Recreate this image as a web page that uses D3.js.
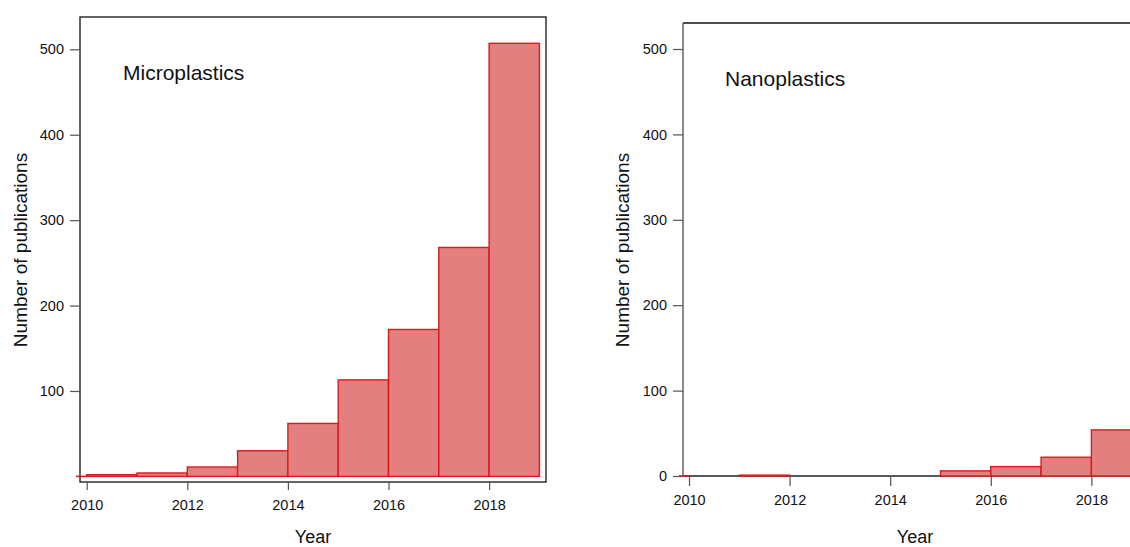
<!DOCTYPE html>
<html>
<head>
<meta charset="utf-8">
<script src="https://cdn.jsdelivr.net/npm/d3@7"></script>
<style>
  body { margin: 0; background: #fff; }
  svg { font-family: "Liberation Sans", Arial, sans-serif; display: block; }
</style>
</head>
<body>
<svg id="chart" width="1130" height="547"></svg>
<script>
// Data
const years = [2010, 2011, 2012, 2013, 2014, 2015, 2016, 2017, 2018];
const microCounts = [2, 4, 11, 30, 62, 113, 172, 268, 507];
const nanoCounts = [0, 1, null, null, null, 6, 11, 22, 54];
const yTicksMicro = [100, 200, 300, 400, 500];
const yTicksNano = [0, 100, 200, 300, 400, 500];
const xTicks = [2010, 2012, 2014, 2016, 2018];

const fill = "#e37f7f";
const stroke = "#dc1a1a";

const svg = d3.select("#chart");

// one panel of the figure
function drawPanel(opt) {
  const g = svg.append("g");
  const x = d3.scaleLinear().domain([2010, 2019]).range([opt.x0, opt.x0 + 9 * 50.3]);
  const y = d3.scaleLinear().domain([0, 500]).range([opt.y0, opt.y500]);

  const data = years.map((yr, i) => ({ year: yr, n: opt.counts[i] }))
    .filter(d => d.n !== null);

  // box
  if (opt.fullBox) {
    g.append("rect")
      .attr("x", opt.box.left).attr("y", opt.box.top)
      .attr("width", opt.box.right - opt.box.left)
      .attr("height", opt.box.bottom - opt.box.top)
      .attr("fill", "none").attr("stroke", "#111").attr("stroke-width", 1.3);
  } else {
    g.append("line")
      .attr("x1", opt.box.left).attr("x2", opt.box.right)
      .attr("y1", opt.box.top).attr("y2", opt.box.top)
      .attr("stroke", "#111").attr("stroke-width", 1.3);
    g.append("line")
      .attr("x1", opt.box.left).attr("x2", opt.box.right)
      .attr("y1", opt.box.bottom).attr("y2", opt.box.bottom)
      .attr("stroke", "#222").attr("stroke-width", 1.3);
    g.append("line")
      .attr("x1", opt.box.left).attr("x2", opt.box.left)
      .attr("y1", opt.box.top).attr("y2", opt.box.bottom)
      .attr("stroke", "#666").attr("stroke-width", 1.5);
  }

  // bars
  g.selectAll("rect.bar")
    .data(data)
    .enter()
    .append("rect")
    .attr("class", "bar")
    .attr("x", d => x(d.year))
    .attr("y", d => y(d.n))
    .attr("width", d => x(d.year + 1) - x(d.year))
    .attr("height", d => y(0) - y(d.n))
    .attr("fill", fill)
    .attr("stroke", stroke)
    .attr("stroke-width", 1.4);

  // red zero mark left of the first bar
  g.append("line")
    .attr("x1", opt.box.left - 4).attr("x2", x(2010))
    .attr("y1", y(0)).attr("y2", y(0))
    .attr("stroke", stroke).attr("stroke-width", 1.6);

  // y axis
  const yAxis = d3.axisLeft(y).tickValues(opt.yTicks).tickSize(10).tickPadding(6).tickSizeOuter(0);
  const ya = g.append("g")
    .attr("transform", "translate(" + opt.box.left + ",0)")
    .call(yAxis);
  ya.select(".domain").remove();
  ya.selectAll("line").attr("stroke", "#555").attr("stroke-width", 1.2);
  ya.selectAll("text").attr("font-size", 14.5).attr("fill", "#111");

  // x axis
  const xAxis = d3.axisBottom(x).tickValues(xTicks).tickFormat(d3.format("d"))
    .tickSize(opt.xTickSize).tickPadding(opt.xPad).tickSizeOuter(0);
  const xa = g.append("g")
    .attr("transform", "translate(0," + opt.box.bottom + ")")
    .call(xAxis);
  xa.select(".domain").remove();
  xa.selectAll("line").attr("stroke", "#555").attr("stroke-width", 1.2);
  xa.selectAll("text").attr("font-size", 14.5).attr("fill", "#111");

  // titles
  g.append("text")
    .attr("transform", "translate(" + opt.yTitleX + ",250) rotate(-90)")
    .attr("text-anchor", "middle")
    .attr("font-size", 19)
    .attr("fill", "#111")
    .text("Number of publications");

  g.append("text")
    .attr("x", opt.yearX).attr("y", 543)
    .attr("text-anchor", "middle")
    .attr("font-size", 18)
    .attr("fill", "#111")
    .text("Year");

  g.append("text")
    .attr("x", opt.labelX).attr("y", opt.labelY)
    .attr("font-size", 21)
    .attr("fill", "#111")
    .text(opt.label);
}

drawPanel({
  counts: microCounts,
  yTicks: yTicksMicro,
  x0: 86.7, y0: 476.4, y500: 49.3,
  box: { left: 80, right: 546, top: 17, bottom: 482 },
  fullBox: true,
  xTickSize: 8, xPad: 10,
  yTitleX: 27, yearX: 313,
  label: "Microplastics", labelX: 123, labelY: 80
});

drawPanel({
  counts: nanoCounts,
  yTicks: yTicksNano,
  x0: 689, y0: 476, y500: 49,
  box: { left: 683, right: 1135, top: 23, bottom: 476 },
  fullBox: false,
  xTickSize: 10, xPad: 9,
  yTitleX: 629, yearX: 915,
  label: "Nanoplastics", labelX: 725, labelY: 86
});
</script>
</body>
</html>
